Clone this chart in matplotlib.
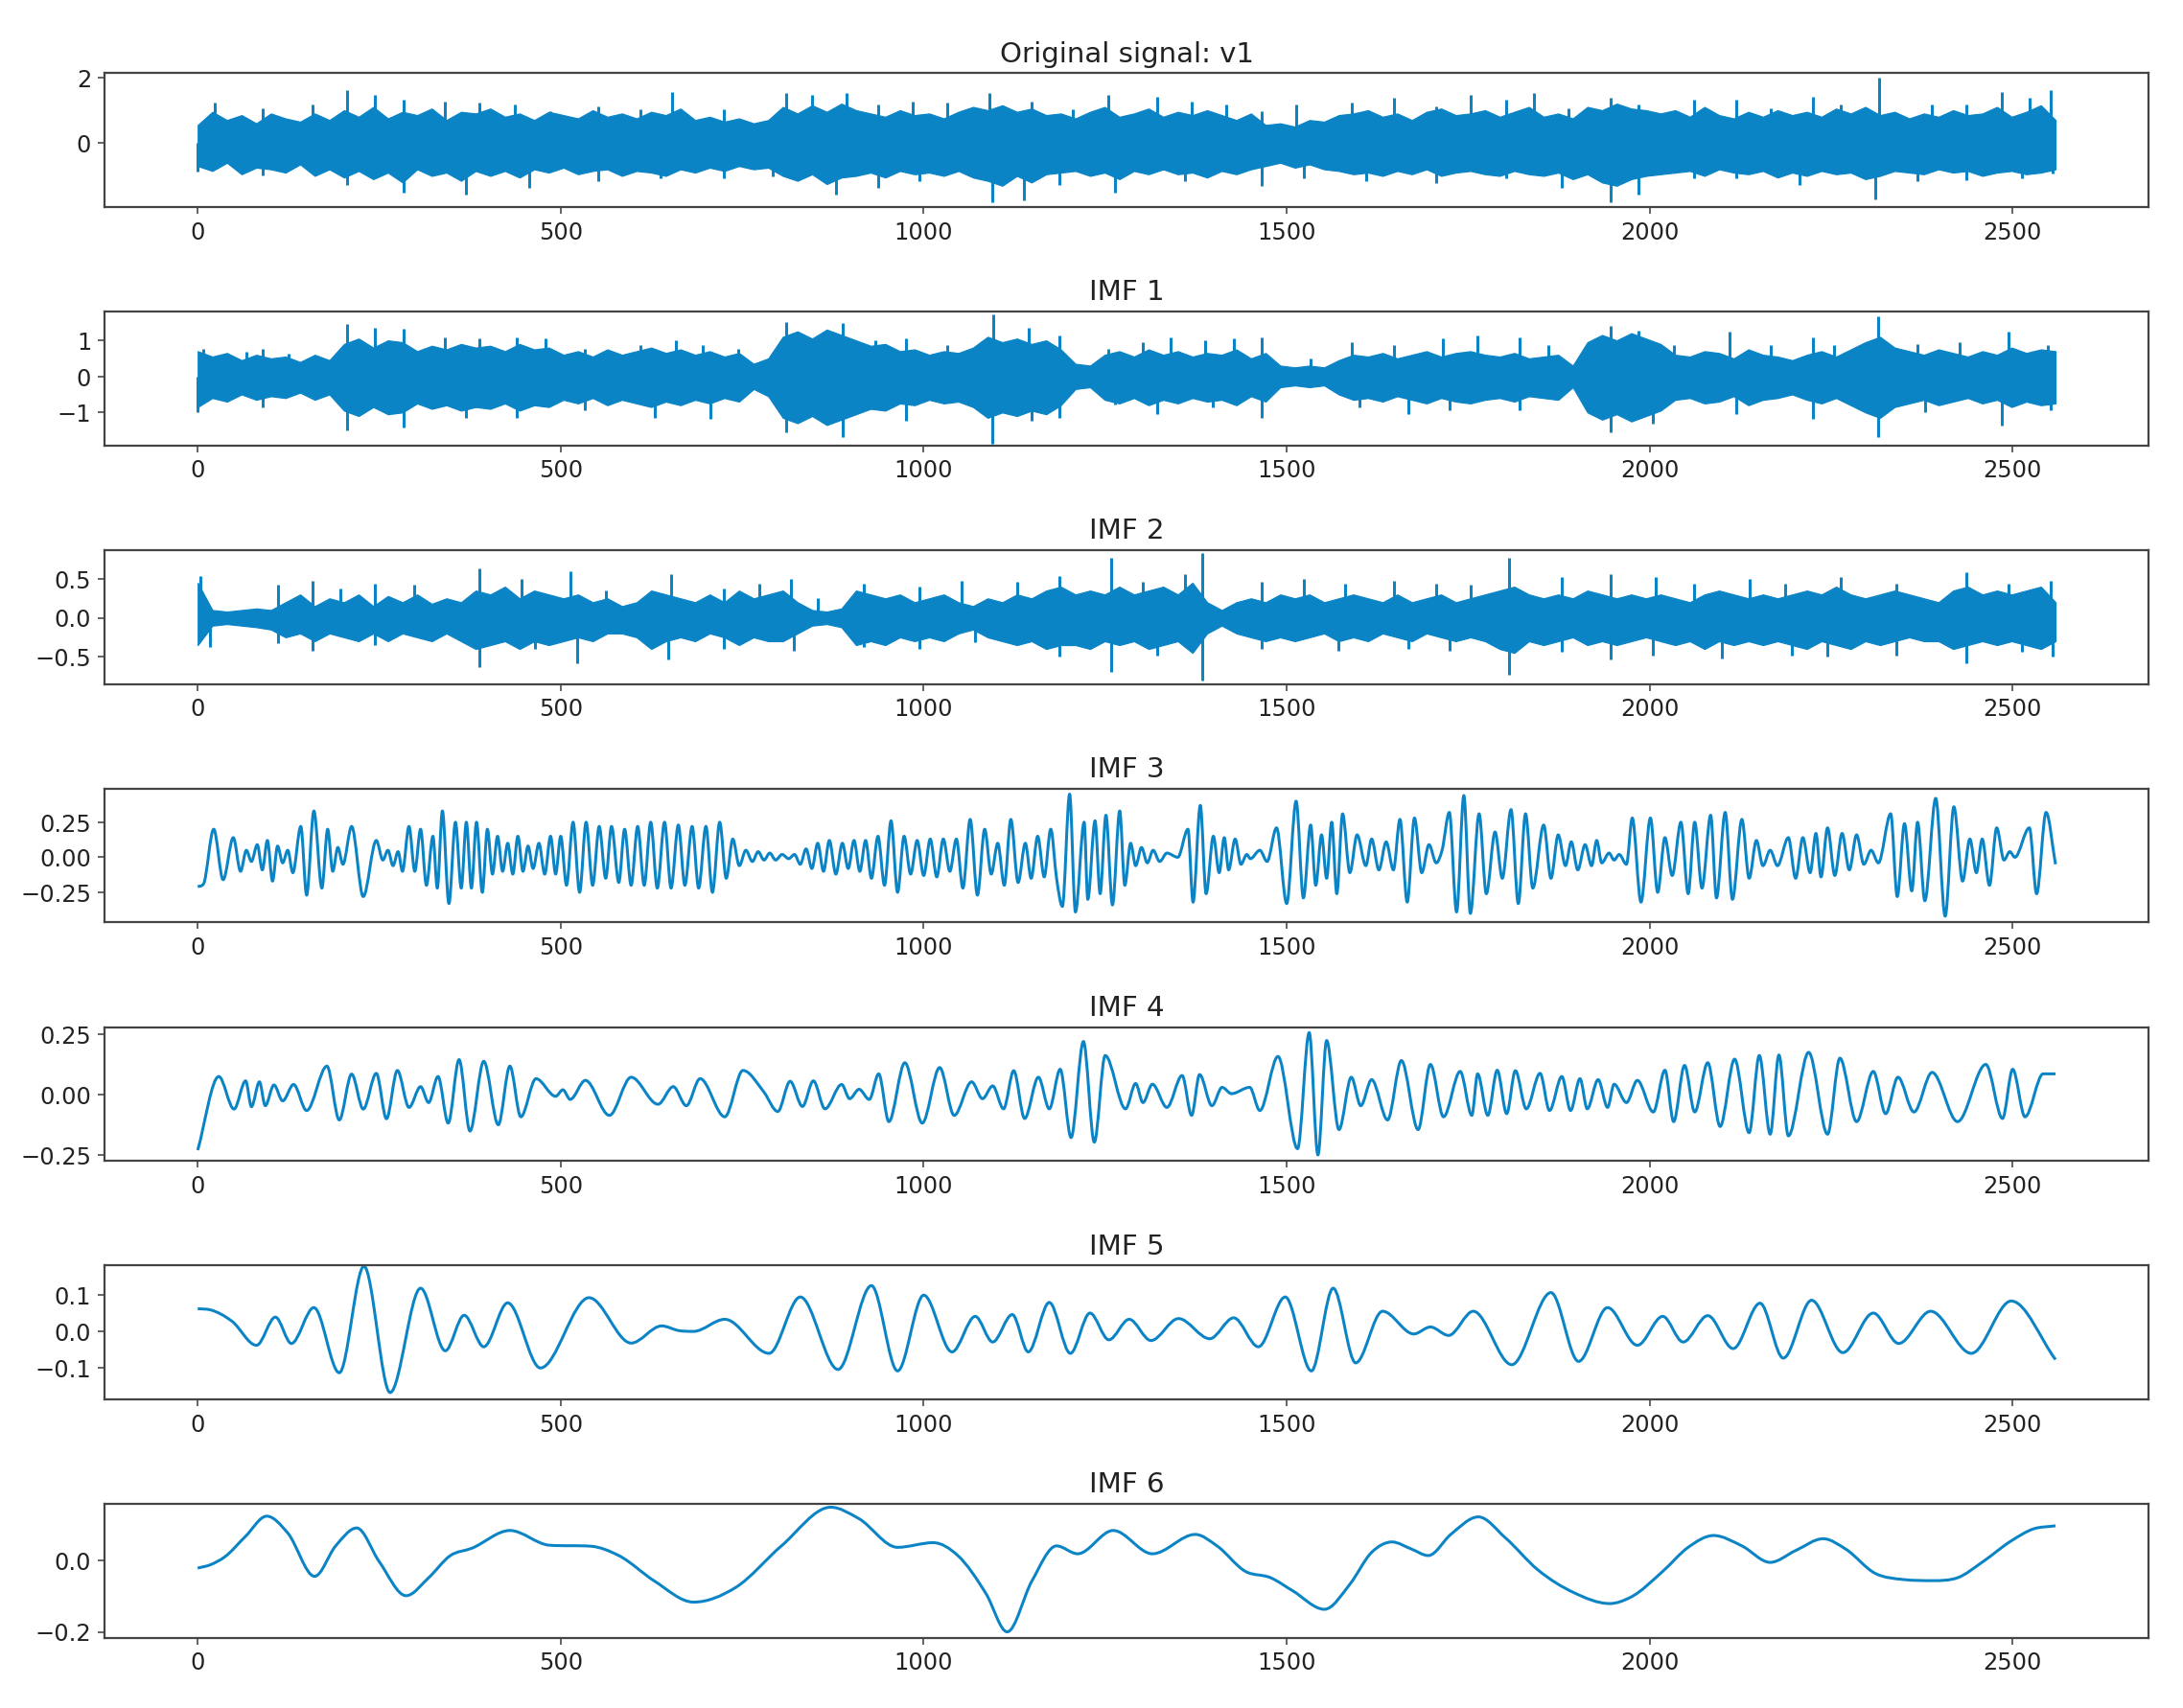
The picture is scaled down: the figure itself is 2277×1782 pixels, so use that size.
import numpy as np
import matplotlib.pyplot as plt
from matplotlib.path import Path
from matplotlib.patches import PathPatch

# EMD of signal v1: original + 6 IMFs, 2560 samples each
n_samples = 2560
line_color = '#0b84c6'
plt.rcParams['xtick.labelsize'] = 12
plt.rcParams['ytick.labelsize'] = 12
plt.rcParams['axes.titlesize'] = 14.5
plt.rcParams['text.color'] = '#222222'
plt.rcParams['xtick.labelcolor'] = '#222222'
plt.rcParams['ytick.labelcolor'] = '#222222'

# ---- dense panels: max / min in every 20-sample window + the tallest spikes ----
orig_upper = [0.55, 0.95, 0.7, 0.85, 0.6, 0.9, 0.75, 0.65, 0.9, 0.7,
              1.0, 0.8, 1.1, 0.75, 0.95, 0.85, 1.05, 0.7, 0.95, 0.9,
              1.05, 0.8, 0.9, 0.7, 0.95, 0.85, 0.75, 1.0, 0.8, 0.9,
              0.75, 0.95, 0.85, 1.05, 0.7, 0.8, 0.65, 0.75, 0.6, 0.7,
              1.1, 0.9, 1.15, 0.95, 1.2, 1.0, 0.9, 0.8, 1.0, 0.85,
              0.9, 0.75, 0.95, 1.1, 1.0, 1.15, 0.95, 1.05, 0.85, 0.9,
              0.75, 0.95, 1.1, 0.8, 0.9, 1.05, 0.8, 0.95, 0.85, 1.0,
              0.85, 0.7, 0.9, 0.55, 0.6, 0.5, 0.7, 0.65, 0.85, 0.9,
              1.0, 0.8, 0.9, 0.7, 0.95, 1.05, 0.85, 0.9, 1.0, 0.8,
              0.95, 1.1, 0.8, 0.9, 0.75, 1.1, 1.0, 1.2, 1.05, 1.0,
              0.9, 1.0, 0.8, 1.1, 0.85, 0.75, 0.95, 0.8, 1.0, 0.85,
              0.95, 0.8, 1.05, 0.9, 1.1, 0.85, 0.95, 0.75, 0.9, 0.8,
              1.0, 0.85, 0.9, 1.1, 0.8, 0.95, 1.15, 0.7]
orig_lower = [-0.7, -0.85, -0.6, -0.95, -0.75, -0.8, -0.9, -0.65, -1.0, -0.8,
              -1.05, -0.85, -1.1, -0.9, -1.2, -0.8, -1.0, -0.9, -1.15, -0.85,
              -1.0, -0.85, -1.05, -0.8, -0.9, -0.75, -0.95, -0.85, -0.8, -1.0,
              -0.85, -0.9, -1.0, -0.8, -0.9, -0.75, -0.85, -0.7, -0.8, -0.75,
              -1.0, -1.15, -0.95, -1.25, -1.05, -1.0, -0.9, -1.05, -0.85, -0.95,
              -0.9, -1.0, -0.85, -1.05, -1.15, -1.3, -1.0, -1.2, -0.95, -0.9,
              -0.85, -1.0, -0.9, -1.1, -0.85, -0.95, -0.8, -0.95, -0.9, -1.05,
              -0.85, -0.95, -0.8, -0.7, -0.6, -0.75, -0.65, -0.8, -0.85, -0.95,
              -0.9, -1.0, -0.85, -0.95, -0.8, -1.0, -0.9, -0.85, -0.95, -1.0,
              -0.85, -0.95, -1.0, -0.9, -1.1, -0.95, -1.2, -1.3, -1.1, -1.0,
              -0.95, -0.9, -0.85, -1.0, -0.8, -0.9, -0.95, -0.85, -1.05, -0.9,
              -1.0, -0.85, -0.95, -0.9, -1.1, -1.0, -0.85, -0.9, -0.95, -0.8,
              -0.9, -0.85, -1.0, -0.9, -0.85, -0.95, -0.9, -0.8]
orig_spike_x = [23, 90, 158, 206, 244, 283, 340, 388, 437, 485, 552, 610, 654, 725, 811, 846, 894,
                937, 985, 1033, 1090, 1148, 1206, 1254, 1321, 1369, 1417, 1465, 1513, 1590, 1648,
                1706, 1754, 1802, 1840, 1888, 1946, 1985, 2061, 2119, 2167, 2225, 2263, 2316, 2388,
                2436, 2485, 2523, 2552,
                0, 90, 206, 283, 369, 456, 552, 638, 725, 792, 879, 937, 994, 1094, 1138, 1187, 1263,
                1360, 1465, 1523, 1610, 1706, 1802, 1879, 1946, 1985, 2061, 2119, 2206, 2311, 2369,
                2436, 2513, 2555]
orig_spike_y = [1.22, 1.07, 1.17, 1.61, 1.46, 1.32, 1.27, 1.22, 1.17, 0.98, 1.12, 1.02, 1.56, 1.02,
                1.51, 1.46, 1.51, 1.17, 1.27, 1.22, 1.51, 1.27, 1.02, 1.46, 1.41, 1.27, 1.17, 0.98,
                1.17, 1.22, 1.37, 1.12, 1.46, 1.32, 1.51, 1.07, 1.37, 1.17, 1.32, 1.32, 1.07, 1.41,
                1.17, 1.98, 1.17, 1.17, 1.56, 1.37, 1.61,
                -0.88, -0.98, -1.27, -1.51, -1.56, -1.37, -1.17, -1.07, -1.07, -1.02, -1.56, -1.37,
                -1.17, -1.8, -1.75, -1.27, -1.51, -1.17, -1.32, -1.07, -1.17, -1.22, -1.07, -1.37,
                -1.8, -1.56, -1.07, -1.07, -1.27, -1.72, -1.17, -1.12, -1.07, -0.93]

imf1_upper = [0.7, 0.55, 0.65, 0.45, 0.6, 0.5, 0.55, 0.4, 0.6, 0.45,
              0.9, 1.05, 0.8, 1.0, 0.95, 0.7, 0.85, 0.75, 0.9, 0.8,
              0.85, 0.7, 0.9, 0.75, 0.8, 0.6, 0.7, 0.55, 0.75, 0.6,
              0.7, 0.8, 0.65, 0.75, 0.6, 0.7, 0.55, 0.65, 0.35, 0.5,
              1.1, 1.25, 1.05, 1.3, 1.15, 1.0, 0.85, 0.9, 0.7, 0.75,
              0.6, 0.7, 0.65, 0.8, 1.1, 0.95, 1.05, 0.9, 1.0, 0.75,
              0.35, 0.3, 0.6, 0.7, 0.55, 0.75, 0.6, 0.7, 0.55, 0.65,
              0.6, 0.75, 0.5, 0.65, 0.3, 0.25, 0.3, 0.25, 0.45, 0.6,
              0.55, 0.65, 0.5, 0.6, 0.7, 0.55, 0.65, 0.7, 0.6, 0.55,
              0.65, 0.5, 0.55, 0.6, 0.3, 0.95, 1.15, 1.0, 1.2, 1.05,
              0.9, 0.6, 0.55, 0.7, 0.65, 0.5, 0.75, 0.6, 0.55, 0.45,
              0.6, 0.7, 0.55, 0.75, 0.95, 1.1, 0.8, 0.7, 0.6, 0.75,
              0.65, 0.55, 0.7, 0.6, 0.8, 0.65, 0.75, 0.7]
imf1_lower = [-0.85, -0.6, -0.7, -0.5, -0.65, -0.55, -0.6, -0.45, -0.65, -0.5,
              -0.95, -1.1, -0.85, -1.05, -1.0, -0.75, -0.9, -0.8, -0.95, -0.85,
              -0.9, -0.75, -0.95, -0.8, -0.85, -0.65, -0.75, -0.6, -0.8, -0.65,
              -0.75, -0.85, -0.7, -0.8, -0.65, -0.75, -0.6, -0.7, -0.35, -0.55,
              -1.15, -1.3, -1.1, -1.35, -1.2, -1.05, -0.9, -0.95, -0.75, -0.8,
              -0.65, -0.75, -0.7, -0.85, -1.15, -1.0, -1.1, -0.95, -1.05, -0.8,
              -0.35, -0.3, -0.65, -0.75, -0.6, -0.8, -0.65, -0.75, -0.6, -0.7,
              -0.65, -0.8, -0.55, -0.7, -0.3, -0.25, -0.3, -0.25, -0.5, -0.65,
              -0.6, -0.7, -0.55, -0.65, -0.75, -0.6, -0.7, -0.75, -0.65, -0.6,
              -0.7, -0.55, -0.6, -0.65, -0.3, -1.0, -1.2, -1.05, -1.25, -1.1,
              -0.95, -0.65, -0.6, -0.75, -0.7, -0.55, -0.8, -0.65, -0.6, -0.5,
              -0.65, -0.75, -0.6, -0.8, -1.0, -1.15, -0.85, -0.75, -0.65, -0.8,
              -0.7, -0.6, -0.75, -0.65, -0.85, -0.7, -0.8, -0.75]
imf1_spike_x = [8, 67, 90, 125, 206, 244, 283, 340, 388, 440, 479, 533, 610, 658, 696, 744, 811, 860,
                888, 933, 975, 1033, 1096, 1144, 1187, 1254, 1302, 1340, 1388, 1427, 1465, 1533,
                1590, 1648, 1715, 1763, 1821, 1860, 1946, 1985, 2033, 2110, 2167, 2225, 2254, 2315,
                2369, 2427, 2494, 2548,
                0, 90, 206, 283, 369, 440, 533, 629, 706, 811, 888, 975, 1094, 1148, 1187, 1263,
                1321, 1398, 1465, 1600, 1667, 1725, 1821, 1946, 2004, 2119, 2225, 2315, 2379, 2485,
                2552]
imf1_spike_y = [0.77, 0.68, 0.77, 0.64, 1.45, 1.36, 1.32, 1.09, 1.05, 1.09, 1.05, 0.77, 0.86, 1.0,
                0.86, 0.77, 1.5, 1.09, 1.48, 1.0, 1.05, 0.86, 1.73, 1.36, 1.14, 0.77, 0.95, 1.09,
                1.0, 1.05, 1.09, 0.5, 0.95, 0.86, 1.05, 1.14, 1.09, 0.86, 1.39, 1.27, 0.86, 1.23,
                0.86, 1.09, 0.86, 1.66, 0.91, 0.95, 1.23, 0.86,
                -1.0, -0.86, -1.5, -1.41, -1.14, -1.14, -0.95, -1.14, -1.18, -1.55, -1.68, -1.23,
                -1.88, -1.23, -1.14, -0.77, -1.05, -0.86, -1.14, -0.86, -1.05, -0.95, -0.95, -1.55,
                -1.32, -1.05, -1.18, -1.68, -1.0, -1.36, -0.95]

imf2_upper = [0.45, 0.1, 0.08, 0.1, 0.12, 0.1, 0.2, 0.3, 0.15, 0.25,
              0.2, 0.3, 0.15, 0.28, 0.2, 0.3, 0.18, 0.25, 0.2, 0.35,
              0.3, 0.4, 0.25, 0.35, 0.3, 0.25, 0.3, 0.2, 0.25, 0.15,
              0.2, 0.35, 0.3, 0.25, 0.2, 0.3, 0.2, 0.35, 0.25, 0.3,
              0.35, 0.2, 0.1, 0.08, 0.12, 0.35, 0.3, 0.25, 0.3, 0.2,
              0.25, 0.3, 0.2, 0.15, 0.25, 0.2, 0.3, 0.25, 0.35, 0.4,
              0.3, 0.35, 0.3, 0.4, 0.3, 0.35, 0.4, 0.3, 0.45, 0.2,
              0.1, 0.2, 0.25, 0.2, 0.3, 0.25, 0.3, 0.2, 0.25, 0.3,
              0.25, 0.2, 0.3, 0.2, 0.25, 0.3, 0.2, 0.25, 0.3, 0.35,
              0.4, 0.3, 0.25, 0.3, 0.25, 0.35, 0.3, 0.25, 0.3, 0.25,
              0.3, 0.25, 0.2, 0.3, 0.35, 0.3, 0.25, 0.3, 0.25, 0.3,
              0.35, 0.3, 0.4, 0.3, 0.25, 0.3, 0.35, 0.3, 0.25, 0.2,
              0.35, 0.4, 0.3, 0.35, 0.3, 0.35, 0.4, 0.2]
imf2_lower = [-0.35, -0.1, -0.08, -0.1, -0.12, -0.15, -0.25, -0.2, -0.3, -0.2,
              -0.25, -0.3, -0.2, -0.3, -0.2, -0.25, -0.3, -0.2, -0.3, -0.4,
              -0.35, -0.3, -0.4, -0.3, -0.35, -0.3, -0.25, -0.3, -0.2, -0.2,
              -0.25, -0.4, -0.3, -0.25, -0.3, -0.2, -0.25, -0.35, -0.25, -0.3,
              -0.3, -0.2, -0.1, -0.08, -0.12, -0.35, -0.3, -0.35, -0.25, -0.3,
              -0.25, -0.3, -0.2, -0.15, -0.25, -0.3, -0.35, -0.3, -0.4, -0.35,
              -0.35, -0.4, -0.3, -0.35, -0.3, -0.4, -0.35, -0.3, -0.45, -0.2,
              -0.1, -0.2, -0.25, -0.3, -0.25, -0.3, -0.25, -0.2, -0.3, -0.25,
              -0.3, -0.2, -0.25, -0.3, -0.2, -0.25, -0.3, -0.25, -0.3, -0.4,
              -0.45, -0.3, -0.35, -0.3, -0.25, -0.35, -0.3, -0.35, -0.3, -0.25,
              -0.3, -0.35, -0.3, -0.4, -0.3, -0.35, -0.3, -0.35, -0.3, -0.35,
              -0.4, -0.3, -0.35, -0.4, -0.3, -0.35, -0.3, -0.25, -0.3, -0.3,
              -0.4, -0.35, -0.3, -0.35, -0.3, -0.35, -0.4, -0.3]
imf2_spike_x = [4, 110, 158, 196, 244, 298, 388, 446, 513, 562, 652, 725, 773, 817, 854, 917, 994,
                1052, 1129, 1187, 1258, 1302, 1360, 1383, 1465, 1523, 1581, 1648, 1706, 1754, 1806,
                1879, 1946, 2008, 2061, 2138, 2186, 2263, 2340, 2436, 2494, 2552,
                17, 110, 158, 244, 388, 465, 523, 648, 725, 821, 917, 994, 1071, 1187, 1258, 1321,
                1383, 1465, 1571, 1667, 1725, 1806, 1879, 1946, 2004, 2100, 2196, 2244, 2340, 2436,
                2513, 2555]
imf2_spike_y = [0.54, 0.42, 0.48, 0.38, 0.44, 0.42, 0.63, 0.5, 0.6, 0.35, 0.56, 0.38, 0.44, 0.5,
                0.25, 0.44, 0.4, 0.48, 0.46, 0.54, 0.77, 0.46, 0.56, 0.83, 0.46, 0.5, 0.44, 0.48,
                0.44, 0.42, 0.77, 0.52, 0.56, 0.52, 0.44, 0.5, 0.44, 0.52, 0.44, 0.58, 0.44, 0.48,
                -0.38, -0.33, -0.42, -0.35, -0.63, -0.4, -0.58, -0.54, -0.4, -0.42, -0.38, -0.4,
                -0.31, -0.5, -0.69, -0.48, -0.8, -0.4, -0.42, -0.4, -0.42, -0.73, -0.44, -0.54,
                -0.48, -0.52, -0.48, -0.5, -0.48, -0.58, -0.44, -0.5]

# ---- oscillating panels: turning points (sample, value) ----
imf3_x = [0, 8, 22, 35, 49, 59, 67, 74, 82, 89, 96, 103, 110, 117, 124, 131, 142, 150, 160, 171,
          179, 186, 193, 200, 212, 228, 246, 255, 262, 269, 276, 282, 291, 299, 307, 315, 324, 330,
          337, 346, 355, 363, 370, 377, 384, 392, 399, 406, 413, 420, 427, 434, 441, 448, 455, 462,
          470, 478, 486, 493, 500, 508, 517, 526, 535, 544, 553, 562, 570, 580, 588, 597, 606, 615,
          624, 633, 643, 652, 662, 671, 681, 690, 700, 709, 719, 728, 737, 746, 755, 764, 772, 780,
          788, 796, 805, 814, 822, 830, 838, 846, 854, 862, 870, 879, 888, 896, 904, 912, 920, 928,
          937, 946, 955, 964, 973, 982, 991, 1000, 1009, 1018, 1027, 1036, 1045, 1054, 1064, 1074,
          1084, 1093, 1102, 1111, 1120, 1130, 1140, 1148, 1157, 1166, 1175, 1183, 1191, 1201,
          1209, 1221, 1226, 1236, 1243, 1251, 1260, 1270, 1277, 1285, 1292, 1300, 1308, 1316,
          1325, 1335, 1350, 1364, 1371, 1381, 1389, 1399, 1407, 1414, 1420, 1429, 1437, 1445,
          1450, 1463, 1473, 1486, 1500, 1513, 1523, 1533, 1540, 1548, 1555, 1562, 1569, 1577,
          1587, 1597, 1609, 1617, 1627, 1637, 1647, 1656, 1666, 1676, 1686, 1696, 1706, 1714,
          1724, 1734, 1744, 1753, 1765, 1775, 1787, 1797, 1809, 1819, 1829, 1839, 1854, 1864,
          1874, 1884, 1892, 1901, 1911, 1920, 1927, 1934, 1944, 1951, 1958, 1968, 1976, 1988,
          2001, 2011, 2021, 2031, 2043, 2053, 2062, 2072, 2084, 2092, 2104, 2114, 2127, 2137,
          2147, 2156, 2166, 2176, 2191, 2201, 2211, 2221, 2229, 2236, 2245, 2255, 2265, 2275,
          2285, 2295, 2305, 2315, 2332, 2341, 2351, 2361, 2369, 2379, 2394, 2407, 2419, 2431,
          2441, 2450, 2458, 2468, 2478, 2488, 2496, 2503, 2523, 2533, 2546, 2559]
imf3_y = [-0.21, -0.19, 0.2, -0.16, 0.14, -0.1, 0.05, -0.03, 0.09, -0.09, 0.12, -0.17, 0.08, -0.04,
          0.05, -0.11, 0.22, -0.27, 0.33, -0.22, 0.2, -0.1, 0.07, -0.05, 0.22, -0.28, 0.12, -0.02,
          0.05, -0.06, 0.04, -0.1, 0.22, -0.1, 0.2, -0.2, 0.15, -0.22, 0.33, -0.33, 0.25, -0.22,
          0.25, -0.22, 0.25, -0.25, 0.2, -0.12, 0.15, -0.1, 0.1, -0.12, 0.15, -0.1, 0.08, -0.08,
          0.1, -0.12, 0.15, -0.12, 0.15, -0.2, 0.25, -0.25, 0.25, -0.2, 0.22, -0.15, 0.22, -0.18,
          0.2, -0.2, 0.22, -0.2, 0.25, -0.22, 0.25, -0.22, 0.23, -0.2, 0.22, -0.22, 0.22, -0.25,
          0.25, -0.15, 0.13, -0.06, 0.05, -0.03, 0.04, -0.02, 0.03, -0.02, 0.02, -0.01, 0.02,
          -0.05, 0.06, -0.08, 0.1, -0.1, 0.12, -0.12, 0.1, -0.08, 0.12, -0.1, 0.12, -0.15, 0.15,
          -0.2, 0.26, -0.25, 0.15, -0.12, 0.12, -0.13, 0.13, -0.14, 0.13, -0.1, 0.13, -0.22, 0.27,
          -0.27, 0.2, -0.12, 0.1, -0.2, 0.27, -0.18, 0.1, -0.15, 0.15, -0.14, 0.2, -0.15, -0.35,
          0.45, -0.39, 0.25, -0.3, 0.26, -0.26, 0.3, -0.34, 0.33, -0.2, 0.1, -0.06, 0.07, -0.04,
          0.05, -0.03, 0.03, 0.0, 0.2, -0.32, 0.37, -0.26, 0.15, -0.11, 0.14, -0.09, 0.13, -0.05,
          0.02, -0.01, 0.05, -0.03, 0.21, -0.33, 0.4, -0.29, 0.23, -0.2, 0.16, -0.15, 0.25, -0.26,
          0.31, -0.11, 0.16, -0.06, 0.13, -0.09, 0.11, -0.09, 0.27, -0.32, 0.28, -0.11, 0.09,
          -0.04, 0.05, 0.32, -0.39, 0.44, -0.4, 0.31, -0.26, 0.18, -0.15, 0.34, -0.33, 0.31, -0.22,
          0.23, -0.15, 0.16, -0.06, 0.11, -0.09, 0.09, -0.06, 0.12, -0.04, 0.03, -0.02, 0.02,
          -0.05, 0.28, -0.32, 0.28, -0.25, 0.14, -0.13, 0.25, -0.26, 0.25, -0.22, 0.3, -0.29,
          0.32, -0.3, 0.27, -0.15, 0.12, -0.06, 0.05, -0.06, 0.14, -0.15, 0.14, -0.11, 0.17,
          -0.14, 0.21, -0.13, 0.17, -0.09, 0.16, -0.05, 0.05, -0.04, 0.31, -0.28, 0.24, -0.24,
          0.25, -0.31, 0.42, -0.42, 0.36, -0.17, 0.13, -0.11, 0.13, -0.2, 0.21, -0.02, 0.04, 0.0,
          0.21, -0.26, 0.32, -0.05]

imf4_x = [0, 29, 50, 66, 74, 85, 93, 105, 117, 132, 150, 178, 195, 212, 228, 246, 260, 275, 291,
          307, 318, 331, 345, 360, 375, 394, 414, 430, 445, 466, 493, 503, 513, 534, 567, 597, 634,
          655, 673, 692, 726, 751, 780, 799, 816, 833, 848, 864, 887, 898, 911, 925, 938, 952, 974,
          998, 1022, 1042, 1066, 1081, 1095, 1110, 1124, 1139, 1158, 1173, 1188, 1203, 1220, 1235,
          1250, 1278, 1292, 1302, 1315, 1335, 1356, 1369, 1380, 1397, 1411, 1424, 1449, 1463,
          1488, 1515, 1531, 1543, 1555, 1572, 1589, 1602, 1617, 1639, 1658, 1681, 1698, 1716,
          1739, 1755, 1763, 1777, 1790, 1803, 1815, 1830, 1849, 1862, 1879, 1891, 1904, 1914,
          1929, 1942, 1951, 1968, 1983, 2005, 2021, 2033, 2048, 2062, 2080, 2097, 2117, 2137,
          2151, 2166, 2178, 2191, 2219, 2245, 2262, 2285, 2308, 2325, 2342, 2364, 2389, 2424,
          2463, 2486, 2500, 2517, 2542, 2559]
imf4_y = [-0.23, 0.075, -0.06, 0.057, -0.05, 0.053, -0.046, 0.04, -0.026, 0.042, -0.066, 0.118,
          -0.105, 0.085, -0.06, 0.088, -0.1, 0.1, -0.053, 0.033, -0.033, 0.075, -0.118, 0.145,
          -0.151, 0.138, -0.125, 0.118, -0.092, 0.066, -0.007, 0.02, -0.02, 0.059, -0.086, 0.072,
          -0.04, 0.033, -0.046, 0.066, -0.092, 0.1, 0.01, -0.07, 0.055, -0.049, 0.057, -0.059,
          0.042, -0.017, 0.022, -0.02, 0.086, -0.112, 0.132, -0.118, 0.112, -0.086, 0.053,
          -0.017, 0.036, -0.059, 0.099, -0.099, 0.072, -0.059, 0.105, -0.178, 0.22, -0.197,
          0.162, -0.059, 0.046, -0.033, 0.043, -0.053, 0.079, -0.086, 0.083, -0.046, 0.03,
          0.004, 0.03, -0.066, 0.158, -0.224, 0.257, -0.25, 0.224, -0.145, 0.072, -0.046, 0.062,
          -0.105, 0.141, -0.145, 0.125, -0.092, 0.096, -0.086, 0.086, -0.086, 0.101, -0.079,
          0.099, -0.059, 0.088, -0.066, 0.075, -0.066, 0.066, -0.059, 0.062, -0.053, 0.043,
          -0.033, 0.059, -0.072, 0.101, -0.112, 0.121, -0.072, 0.132, -0.132, 0.147, -0.158,
          0.162, -0.164, 0.164, -0.171, 0.175, -0.164, 0.151, -0.112, 0.096, -0.079, 0.072,
          -0.072, 0.092, -0.112, 0.125, -0.099, 0.105, -0.092, 0.086, 0.086]

imf5_x = [0, 17, 47, 81, 107, 129, 160, 195, 229, 265, 307, 341, 367, 394, 427, 472, 539, 597, 639,
          663, 683, 726, 787, 830, 882, 928, 964, 1000, 1039, 1071, 1095, 1122, 1144, 1173, 1202,
          1229, 1255, 1283, 1313, 1351, 1394, 1427, 1461, 1498, 1534, 1564, 1595, 1632, 1675,
          1698, 1723, 1757, 1810, 1864, 1902, 1942, 1983, 2018, 2046, 2080, 2115, 2152, 2184,
          2223, 2266, 2308, 2343, 2387, 2443, 2498, 2559]
imf5_y = [0.062, 0.059, 0.028, -0.038, 0.039, -0.033, 0.065, -0.113, 0.178, -0.167, 0.118, -0.053,
          0.044, -0.042, 0.078, -0.1, 0.092, -0.032, 0.015, 0.002, 0.0, 0.033, -0.06, 0.094, -0.104,
          0.125, -0.108, 0.099, -0.056, 0.041, -0.029, 0.046, -0.056, 0.079, -0.06, 0.05, -0.023,
          0.033, -0.025, 0.035, -0.02, 0.037, -0.042, 0.094, -0.108, 0.118, -0.086, 0.055,
          -0.007, 0.012, -0.011, 0.055, -0.091, 0.106, -0.082, 0.065, -0.038, 0.041, -0.029,
          0.043, -0.047, 0.077, -0.073, 0.085, -0.058, 0.05, -0.033, 0.055, -0.06, 0.083,
          -0.077]

imf6_x = [0, 17, 37, 66, 95, 124, 161, 190, 219, 250, 287, 318, 348, 377, 430, 484, 542, 580, 629,
          683, 741, 804, 872, 910, 964, 1013, 1047, 1086, 1115, 1149, 1183, 1212, 1261, 1315, 1374,
          1404, 1443, 1478, 1508, 1552, 1587, 1617, 1645, 1672, 1695, 1726, 1764, 1801, 1846,
          1895, 1945, 1974, 2018, 2053, 2088, 2127, 2166, 2201, 2239, 2270, 2310, 2350, 2390,
          2424, 2459, 2498, 2528, 2559]
imf6_y = [-0.022, -0.013, 0.009, 0.067, 0.123, 0.076, -0.045, 0.04, 0.09, -0.004, -0.099, -0.049,
          0.013, 0.033, 0.083, 0.042, 0.039, 0.013, -0.058, -0.117, -0.076, 0.04, 0.148, 0.117,
          0.036, 0.049, 0.013, -0.094, -0.2, -0.058, 0.04, 0.018, 0.083, 0.018, 0.072, 0.04,
          -0.031, -0.049, -0.085, -0.137, -0.067, 0.022, 0.051, 0.031, 0.013, 0.072, 0.121,
          0.063, -0.027, -0.09, -0.121, -0.103, -0.031, 0.036, 0.069, 0.04, -0.006, 0.027, 0.06,
          0.031, -0.036, -0.054, -0.057, -0.049, -0.004, 0.054, 0.087, 0.096]

titles = ['Original signal: v1', 'IMF 1', 'IMF 2', 'IMF 3', 'IMF 4', 'IMF 5', 'IMF 6']
y_limits = [(-1.95, 2.13), (-1.92, 1.8), (-0.85, 0.87), (-0.465, 0.49),
            (-0.275, 0.28), (-0.186, 0.18), (-0.217, 0.157)]
y_ticks = [[0, 2], [-1, 0, 1], [-0.5, 0.0, 0.5], [-0.25, 0.0, 0.25],
           [-0.25, 0.0, 0.25], [-0.1, 0.0, 0.1], [-0.2, 0.0]]


def smooth_path(xs, ys):
    # monotone cubic bezier through the turning points (flat at peaks/troughs)
    xs = np.asarray(xs, float)
    ys = np.asarray(ys, float)
    h = np.diff(xs)
    s = np.diff(ys) / h
    m = np.zeros_like(ys)
    m[0], m[-1] = s[0], s[-1]
    for i in range(1, len(xs) - 1):
        if s[i - 1] * s[i] > 0:
            t = (s[i - 1] * h[i] + s[i] * h[i - 1]) / (h[i - 1] + h[i])
            lim = 3 * min(abs(s[i - 1]), abs(s[i]))
            m[i] = np.sign(t) * min(abs(t), lim)
    verts = [(xs[0], ys[0])]
    codes = [Path.MOVETO]
    for i in range(len(h)):
        d = h[i] / 3
        verts += [(xs[i] + d, ys[i] + m[i] * d),
                  (xs[i + 1] - d, ys[i + 1] - m[i + 1] * d),
                  (xs[i + 1], ys[i + 1])]
        codes += [Path.CURVE4] * 3
    return Path(verts, codes)


fig, axes = plt.subplots(7, 1, figsize=(2277.4 / 145, 1782.4 / 145), dpi=145)
fig.subplots_adjust(left=0.048, right=0.984, top=0.957, bottom=0.041, hspace=0.78)

dense = [(orig_upper, orig_lower, orig_spike_x, orig_spike_y),
         (imf1_upper, imf1_lower, imf1_spike_x, imf1_spike_y),
         (imf2_upper, imf2_lower, imf2_spike_x, imf2_spike_y)]
for ax, (upper, lower, sx, sy) in zip(axes[:3], dense):
    env_x = np.linspace(0, n_samples - 1, len(upper))
    ax.fill_between(env_x, lower, upper, color=line_color, lw=0.6)
    ax.vlines(sx, 0, sy, color=line_color, lw=1.5)

smooth = [(imf3_x, imf3_y), (imf4_x, imf4_y), (imf5_x, imf5_y), (imf6_x, imf6_y)]
for ax, (xs, ys) in zip(axes[3:], smooth):
    ax.add_patch(PathPatch(smooth_path(xs, ys), fill=False, edgecolor=line_color,
                           lw=1.5, joinstyle='round'))

for ax, title, ylim, yt in zip(axes, titles, y_limits, y_ticks):
    ax.set_title(title)
    ax.set_xlim(-128, 2687)
    ax.set_ylim(ylim)
    ax.set_yticks(yt)
    ax.set_xticks([0, 500, 1000, 1500, 2000, 2500])
    ax.tick_params(colors='#444444', labelcolor='#222222')
    for sp in ax.spines.values():
        sp.set_color('#444444')
        sp.set_linewidth(1.1)

fig.savefig('out.png', dpi=145)
